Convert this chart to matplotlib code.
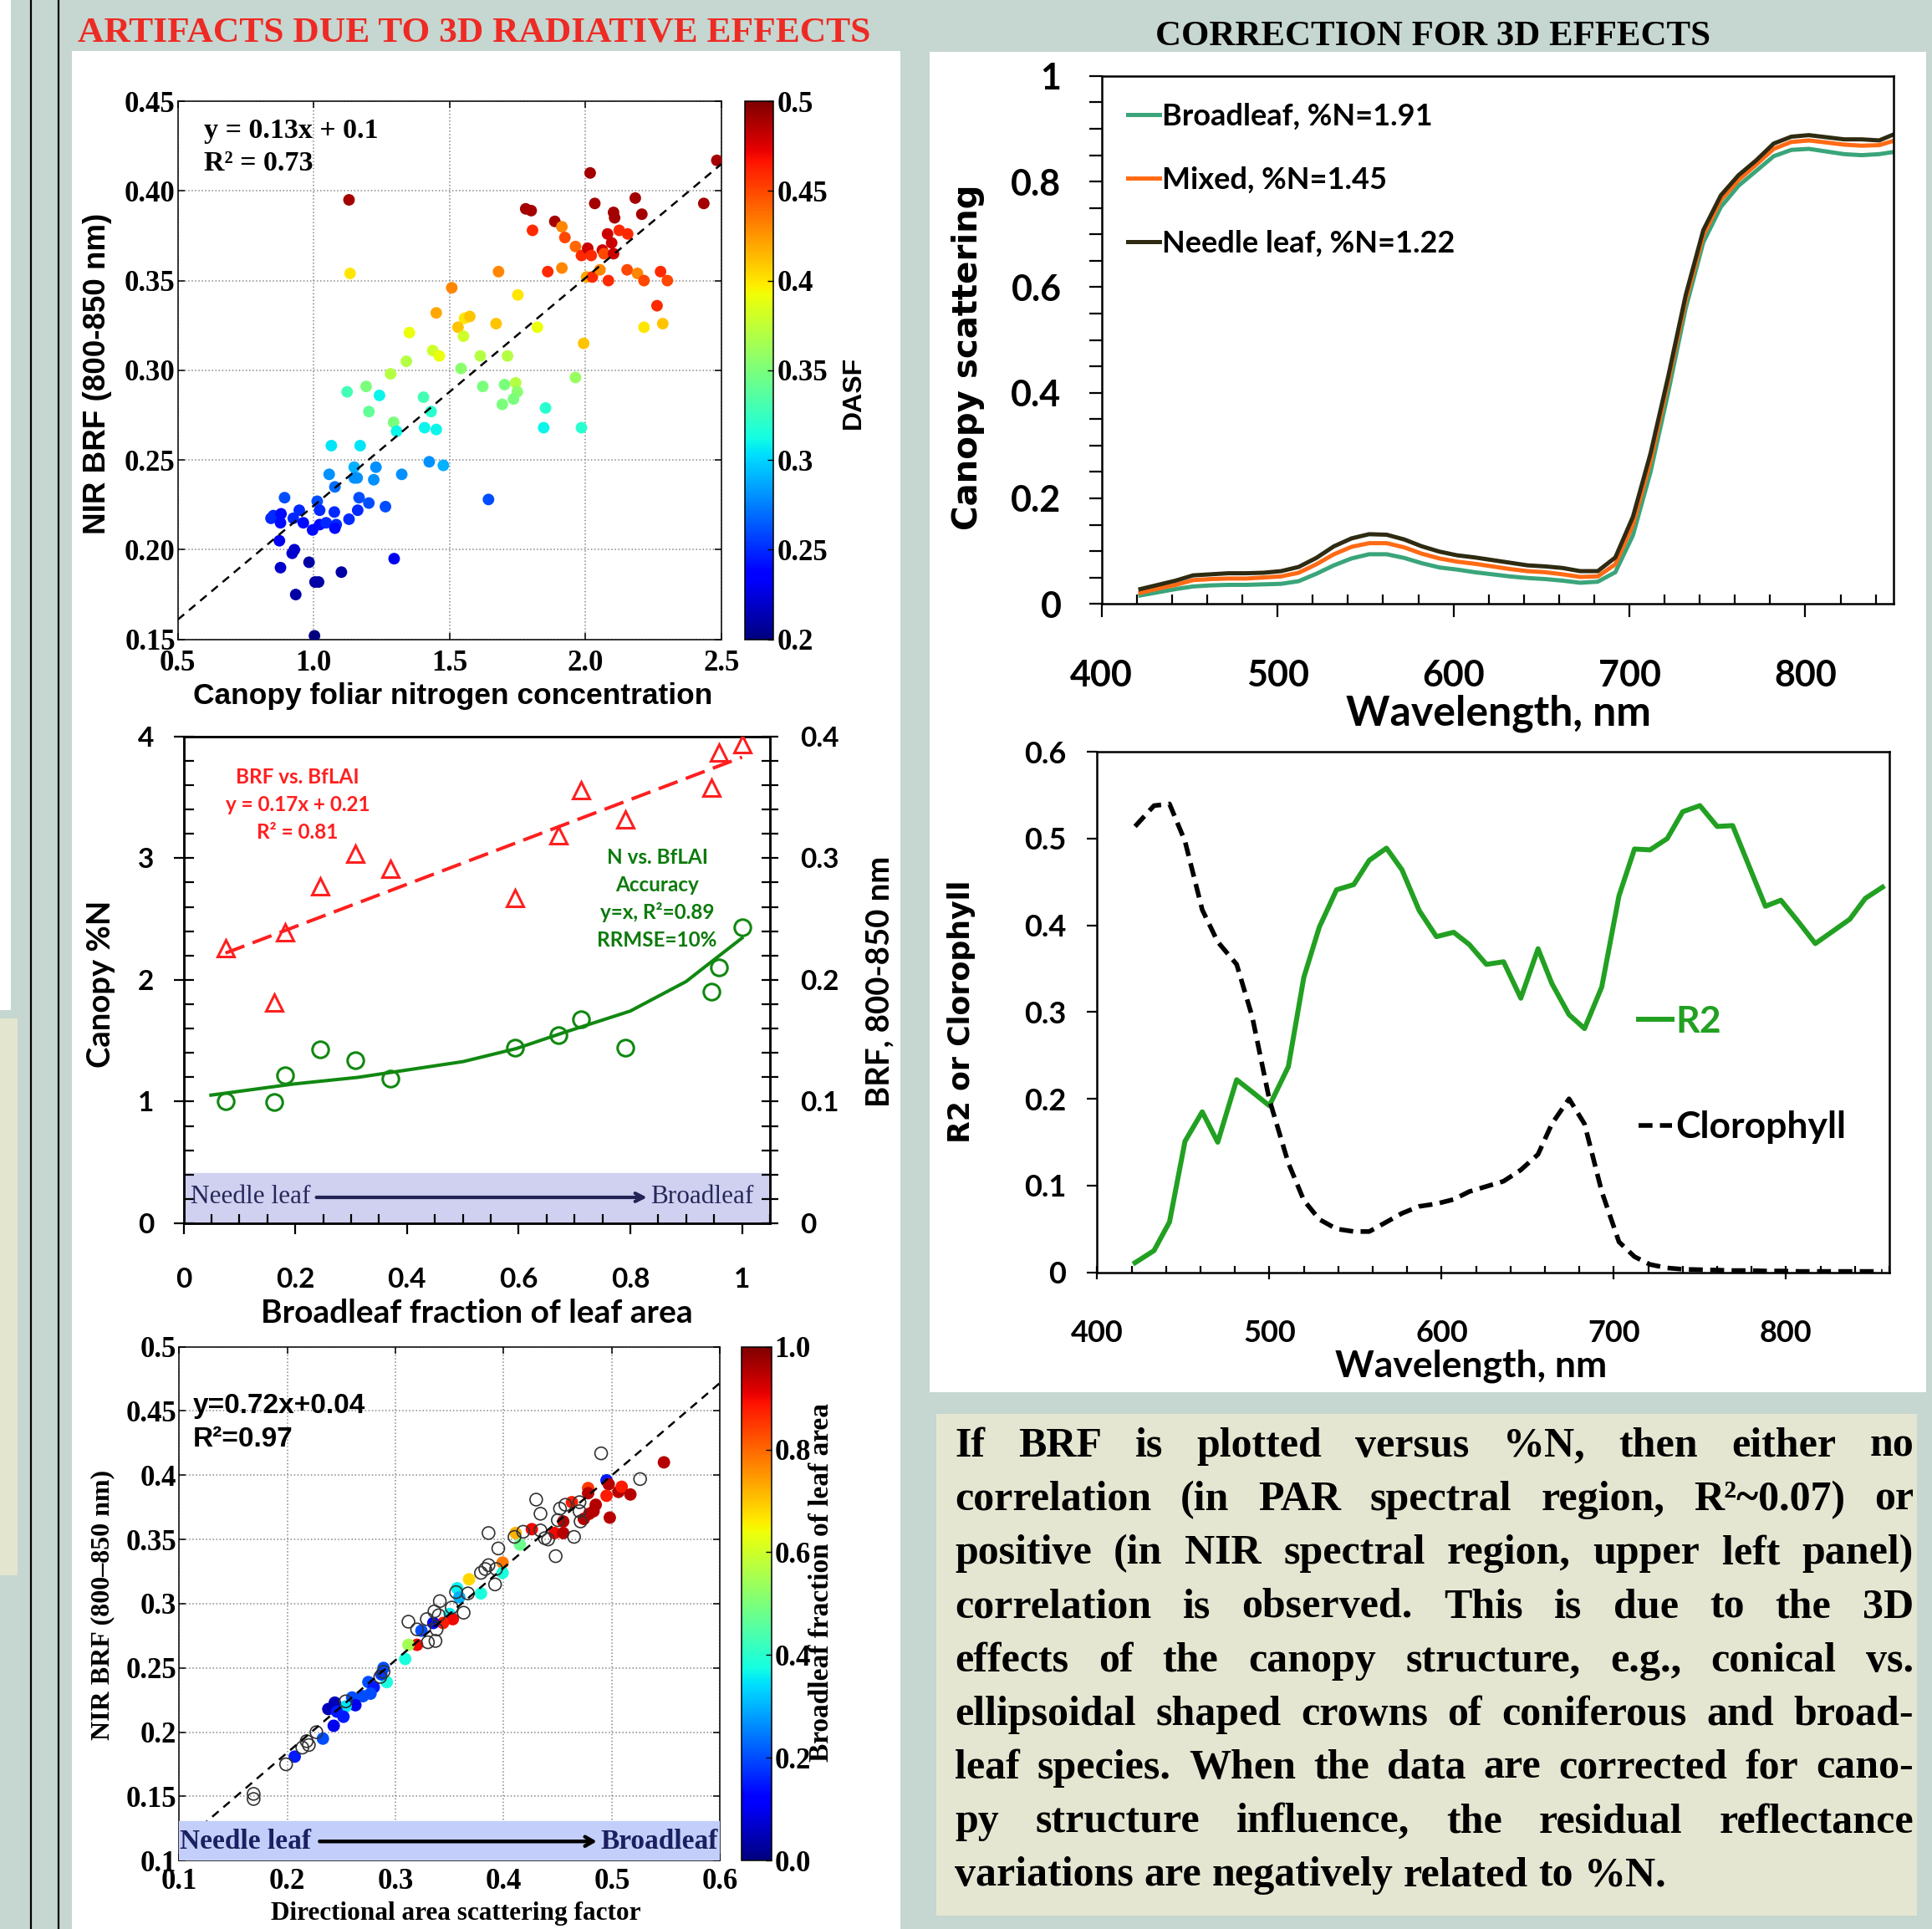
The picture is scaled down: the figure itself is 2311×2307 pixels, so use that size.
#!/usr/bin/env python3
"""Poster panel: artifacts due to 3D radiative effects and their correction."""

import matplotlib
matplotlib.use("Agg")
import matplotlib.pyplot as plt
from matplotlib.patches import Rectangle
from matplotlib.ticker import MultipleLocator

W, H, DPI = 2311, 2307, 100

# ---------------------------------------------------------------- data
# panel A: NIR BRF vs canopy foliar nitrogen, coloured by DASF
foliar_n = [1.13, 1.134, 1.78, 1.80, 1.805, 1.887, 1.913, 1.924, 2.017, 2.034,
            2.103, 2.107, 2.183, 2.207, 2.435, 2.483, 2.081, 2.096, 2.124, 2.155,
            1.963, 1.985, 2.008, 2.021, 2.062, 2.068, 2.103, 1.913, 1.861, 2.004,
            2.025, 2.053, 2.084, 2.153, 2.191, 2.215, 2.276, 2.301, 2.263, 2.215,
            2.284, 1.993, 1.680, 1.508, 1.751, 1.451, 1.555, 1.574, 1.531, 1.671,
            1.823, 1.352, 1.551, 1.438, 1.462, 1.341, 1.613, 1.713, 1.542, 1.283,
            1.963, 1.193, 1.622, 1.702, 1.743, 1.123, 1.749, 1.242, 1.404, 1.735,
            1.694, 1.853, 1.203, 1.432, 1.294, 1.305, 1.408, 1.451, 1.846, 1.985,
            1.065, 1.171, 1.149, 1.229, 1.425, 1.477, 1.057, 1.149, 1.160, 1.221,
            1.324, 1.078, 1.643, 0.893, 1.013, 1.167, 1.203, 1.264, 1.022, 0.947,
            1.076, 1.162, 0.843, 0.852, 0.880, 0.878, 0.925, 0.962, 1.022, 1.046,
            1.083, 1.078, 1.130, 0.996, 0.874, 0.929, 0.921, 0.878, 0.983, 1.102,
            1.296, 1.005, 1.018, 0.934, 1.003]
nir_brf_a = [0.395, 0.354, 0.390, 0.389, 0.378, 0.383, 0.380, 0.374, 0.410, 0.393,
             0.388, 0.385, 0.396, 0.387, 0.393, 0.417, 0.376, 0.371, 0.378, 0.376,
             0.369, 0.364, 0.368, 0.364, 0.367, 0.365, 0.365, 0.357, 0.355, 0.352,
             0.352, 0.356, 0.350, 0.356, 0.354, 0.350, 0.355, 0.350, 0.336, 0.324,
             0.326, 0.315, 0.355, 0.346, 0.342, 0.332, 0.329, 0.330, 0.324, 0.326,
             0.324, 0.321, 0.319, 0.311, 0.308, 0.305, 0.308, 0.308, 0.301, 0.298,
             0.296, 0.291, 0.291, 0.292, 0.293, 0.288, 0.288, 0.286, 0.285, 0.284,
             0.281, 0.279, 0.277, 0.277, 0.271, 0.266, 0.268, 0.267, 0.268, 0.268,
             0.258, 0.258, 0.246, 0.246, 0.249, 0.247, 0.242, 0.240, 0.240, 0.239,
             0.242, 0.235, 0.228, 0.229, 0.227, 0.229, 0.226, 0.224, 0.222, 0.222,
             0.221, 0.222, 0.2175, 0.219, 0.220, 0.215, 0.2175, 0.215, 0.214, 0.215,
             0.214, 0.212, 0.217, 0.211, 0.205, 0.200, 0.198, 0.190, 0.193, 0.1875,
             0.195, 0.182, 0.182, 0.175, 0.152]
dasf_a = [0.49, 0.40, 0.49, 0.49, 0.46, 0.49, 0.43, 0.45, 0.49, 0.49,
          0.49, 0.49, 0.49, 0.49, 0.49, 0.49, 0.48, 0.48, 0.46, 0.46,
          0.44, 0.46, 0.48, 0.46, 0.48, 0.45, 0.48, 0.43, 0.46, 0.42,
          0.46, 0.43, 0.46, 0.45, 0.43, 0.45, 0.46, 0.45, 0.46, 0.40,
          0.41, 0.41, 0.43, 0.43, 0.40, 0.42, 0.40, 0.41, 0.41, 0.41,
          0.39, 0.39, 0.38, 0.38, 0.39, 0.37, 0.37, 0.37, 0.355, 0.37,
          0.36, 0.35, 0.35, 0.35, 0.37, 0.33, 0.355, 0.31, 0.33, 0.35,
          0.35, 0.32, 0.34, 0.32, 0.35, 0.31, 0.31, 0.31, 0.31, 0.32,
          0.305, 0.305, 0.29, 0.28, 0.28, 0.29, 0.28, 0.28, 0.28, 0.28,
          0.28, 0.27, 0.26, 0.26, 0.26, 0.26, 0.26, 0.26, 0.25, 0.25,
          0.25, 0.25, 0.25, 0.25, 0.24, 0.24, 0.25, 0.24, 0.24, 0.25,
          0.25, 0.24, 0.25, 0.24, 0.23, 0.22, 0.22, 0.22, 0.21, 0.21,
          0.23, 0.21, 0.21, 0.21, 0.20]
fit_a_x = [0.5, 2.5]
fit_a_y = [0.161, 0.415]
dasf_ticks = [0.2, 0.25, 0.3, 0.35, 0.4, 0.45, 0.5]
dasf_labels = ["0.2", "0.25", "0.3", "0.35", "0.4", "0.45", "0.5"]

# panel B: canopy %N and BRF vs broadleaf fraction
bf_frac = [0.076, 0.163, 0.182, 0.244, 0.308, 0.371, 0.593, 0.672, 0.712, 0.791,
           0.945, 0.958, 1.001]
brf_b = [0.226, 0.1815, 0.239, 0.277, 0.304, 0.291, 0.267, 0.319, 0.356, 0.332,
         0.358, 0.387, 0.394]
pct_n_b = [1.005, 0.998, 1.219, 1.429, 1.339, 1.186, 1.446, 1.549, 1.679, 1.446,
           1.906, 2.100, 2.431]
n_fit_x = [0.049, 0.196, 0.312, 0.501, 0.596, 0.68, 0.80, 0.90, 0.948, 1.0]
n_fit_y = [1.053, 1.144, 1.199, 1.329, 1.436, 1.566, 1.744, 1.987, 2.159, 2.344]
brf_fit_x = [0.075, 1.0]
brf_fit_y = [0.222, 0.383]

# panel C: NIR BRF vs DASF, coloured by broadleaf fraction
dasf_c = [0.548, 0.495, 0.478, 0.478, 0.497, 0.506, 0.509, 0.517, 0.495, 0.485,
          0.483, 0.479, 0.474, 0.498, 0.463, 0.455, 0.447, 0.455, 0.426, 0.411,
          0.415, 0.399, 0.399, 0.368, 0.357, 0.359, 0.379, 0.350, 0.353, 0.344,
          0.335, 0.324, 0.320, 0.312, 0.309, 0.289, 0.292, 0.287, 0.275, 0.280,
          0.277, 0.270, 0.260, 0.263, 0.254, 0.244, 0.238, 0.246, 0.252, 0.243,
          0.233, 0.207]
brf_c = [0.410, 0.396, 0.390, 0.386, 0.393, 0.387, 0.391, 0.385, 0.384, 0.377,
         0.372, 0.370, 0.366, 0.367, 0.379, 0.364, 0.355, 0.355, 0.358, 0.355,
         0.346, 0.332, 0.324, 0.319, 0.312, 0.305, 0.308, 0.292, 0.288, 0.285,
         0.285, 0.279, 0.268, 0.268, 0.257, 0.250, 0.239, 0.245, 0.239, 0.235,
         0.230, 0.228, 0.227, 0.221, 0.220, 0.223, 0.218, 0.216, 0.212, 0.205,
         0.195, 0.181]
bf_c = [0.95, 0.15, 0.85, 0.95, 0.95, 0.95, 0.88, 0.95, 0.88, 0.95,
        0.95, 0.95, 0.95, 0.95, 0.88, 0.95, 0.9, 0.95, 0.9, 0.72,
        0.48, 0.78, 0.38, 0.68, 0.36, 0.3, 0.38, 0.36, 0.9, 0.88,
        0.1, 0.2, 0.9, 0.55, 0.38, 0.2, 0.38, 0.18, 0.2, 0.15,
        0.2, 0.2, 0.2, 0.1, 0.35, 0.05, 0.05, 0.15, 0.15, 0.1,
        0.2, 0.15]
dasf_open = [0.490, 0.526, 0.430, 0.434, 0.452, 0.457, 0.470, 0.470, 0.471, 0.450,
             0.434, 0.441, 0.438, 0.465, 0.448, 0.386, 0.418, 0.410, 0.395, 0.386,
             0.383, 0.379, 0.393, 0.392, 0.367, 0.356, 0.341, 0.352, 0.363, 0.336,
             0.340, 0.329, 0.312, 0.320, 0.330, 0.337, 0.338, 0.289, 0.286, 0.254,
             0.227, 0.218, 0.220, 0.214, 0.199, 0.169, 0.169]
brf_open = [0.417, 0.397, 0.381, 0.370, 0.374, 0.377, 0.379, 0.372, 0.364, 0.365,
            0.357, 0.350, 0.351, 0.352, 0.337, 0.355, 0.356, 0.352, 0.343, 0.330,
            0.327, 0.324, 0.327, 0.315, 0.308, 0.309, 0.302, 0.297, 0.293, 0.294,
            0.291, 0.288, 0.286, 0.280, 0.270, 0.271, 0.280, 0.247, 0.243, 0.224,
            0.200, 0.193, 0.190, 0.188, 0.175, 0.152, 0.148]
fit_c_x = [0.1, 0.6]
fit_c_y = [0.112, 0.472]

# panel D: canopy scattering spectra
wl_d = [422, 432, 442, 452, 462, 472, 482, 492, 502, 512,
        522, 532, 542, 552, 562, 572, 582, 592, 602, 612,
        622, 632, 642, 652, 662, 672, 682, 692, 702, 712,
        722, 732, 742, 752, 762, 772, 782, 792, 802, 812,
        822, 832, 842, 850]
scat_broad = [.016, .022, .028, .033, .035, .036, .036, .037, .038, .043,
              .057, .073, .086, .094, .094, .087, .077, .069, .065, .060,
              .056, .052, .049, .047, .044, .040, .042, .060, .130, .250,
              .400, .560, .685, .752, .792, .820, .848, .860, .862, .857,
              .852, .850, .852, .856]
scat_mixed = [.021, .029, .036, .045, .047, .048, .048, .050, .052, .059,
              .075, .094, .108, .115, .115, .107, .095, .086, .080, .076,
              .071, .066, .062, .060, .056, .051, .052, .075, .150, .270,
              .420, .575, .698, .765, .803, .832, .862, .875, .878, .874,
              .870, .868, .869, .877]
scat_needle = [.028, .036, .044, .054, .056, .058, .058, .059, .062, .070,
               .087, .109, .124, .132, .131, .122, .109, .099, .092, .088,
               .083, .078, .073, .071, .068, .062, .062, .088, .165, .285,
               .430, .585, .708, .774, .812, .840, .872, .885, .888, .884,
               .880, .880, .878, .889]
series_d = ["Broadleaf, %N=1.91", "Mixed, %N=1.45", "Needle leaf, %N=1.22"]

# panel E: R2 and chlorophyll absorption spectra
wl_e = [422, 433, 442, 451, 461, 470, 481, 490, 500, 511,
        520, 529, 539, 549, 558, 568, 577, 587, 597, 607,
        616, 626, 636, 646, 656, 664, 674, 683, 693, 703,
        712, 721, 731, 740, 750, 760, 769, 779, 788, 797,
        808, 817, 827, 837, 846, 856]
r2_e = [0.011, 0.025, 0.058, 0.151, 0.185, 0.150, 0.222, 0.208, 0.192, 0.237,
        0.340, 0.398, 0.441, 0.447, 0.475, 0.489, 0.464, 0.417, 0.387, 0.392,
        0.378, 0.355, 0.358, 0.316, 0.373, 0.333, 0.297, 0.281, 0.329, 0.434,
        0.488, 0.487, 0.500, 0.531, 0.538, 0.514, 0.515, 0.466, 0.422, 0.429,
        0.402, 0.379, 0.393, 0.407, 0.431, 0.444]
chl_e = [0.514, 0.538, 0.540, 0.497, 0.418, 0.381, 0.355, 0.295, 0.199, 0.126,
         0.083, 0.061, 0.050, 0.047, 0.047, 0.058, 0.068, 0.076, 0.079, 0.084,
         0.093, 0.099, 0.105, 0.118, 0.136, 0.171, 0.200, 0.171, 0.093, 0.035,
         0.018, 0.009, 0.005, 0.0035, 0.003, 0.0025, 0.002, 0.002, 0.0015, 0.0015,
         0.001, 0.001, 0.001, 0.001, 0.001, 0.001]

body_lines = [
    "If BRF is plotted versus %N, then either no",
    "correlation (in PAR spectral region, R\u00b2~0.07) or",
    "positive (in NIR spectral region, upper left panel)",
    "correlation is observed. This is due to the 3D",
    "effects of the canopy structure, e.g., conical vs.",
    "ellipsoidal shaped crowns of coniferous and broad-",
    "leaf species. When the data are corrected for cano-",
    "py structure influence, the residual reflectance",
    "variations are negatively related to %N.",
]

# ---------------------------------------------------------------- styles
BG = "#c6d6d0"
BEIGE = "#e5e6d1"
SERIF = dict(family="Liberation Serif", weight="bold")
ARIAL = dict(family="Liberation Sans", weight="bold")
CALI = dict(family="Lato", weight="bold")
VERD = dict(family="DejaVu Sans", weight="bold")

fig = plt.figure(figsize=(W / DPI, H / DPI), dpi=DPI, facecolor=BG)


def px_axes(x0, y0, x1, y1, **kw):
    return fig.add_axes([x0 / W, 1 - y1 / H, (x1 - x0) / W, (y1 - y0) / H], **kw)


# background panels, in pixel coordinates
bg = px_axes(0, 0, W, H, zorder=-10)
bg.set_xlim(0, W)
bg.set_ylim(H, 0)
bg.axis("off")
for x, y, w, h, col in [(0, 0, 13, 1208, "white"), (0, 1218, 21, 666, "#e3e5cf"),
                        (86, 61, 991, 2246, "white"), (1112, 62, 1192, 1603, "white"),
                        (1120, 1691, 1173, 600, BEIGE)]:
    bg.add_patch(Rectangle((x, y), w, h, facecolor=col, edgecolor="none"))
bg.axvline(37, color="k", lw=1.6)
bg.axvline(70, color="k", lw=1.6)

# ---------------------------------------------------------------- panel A
ax1 = px_axes(212.6, 121, 863, 764.7)
sc1 = ax1.scatter(foliar_n, nir_brf_a, c=dasf_a, cmap="jet", vmin=0.2, vmax=0.5,
                  s=100, edgecolors="none", zorder=3)
ax1.plot(fit_a_x, fit_a_y, color="k", ls=(0, (4, 3)), lw=1.8, zorder=4)
ax1.set_xlim(0.5, 2.5)
ax1.set_ylim(0.15, 0.45)
ax1.set_xticks([0.5, 1.0, 1.5, 2.0, 2.5], ["0.5", "1.0", "1.5", "2.0", "2.5"],
               fontsize=25, **SERIF)
ax1.set_yticks([0.15, 0.2, 0.25, 0.3, 0.35, 0.4, 0.45],
               ["0.15", "0.20", "0.25", "0.30", "0.35", "0.40", "0.45"],
               fontsize=25, **SERIF)
ax1.grid(True, ls=":", color="#888888", lw=1.1)
ax1.set_axisbelow(True)
ax1.tick_params(direction="in", length=6, width=1.1, top=True, right=True)
ax1.tick_params(axis="x", pad=8.6)
ax1.tick_params(axis="y", pad=2)
for sp in ax1.spines.values():
    sp.set_linewidth(1.1)
ax1.text(0.597, 0.4335, "y = 0.13x + 0.1", fontsize=24.5, va="center", **SERIF)
ax1.text(0.597, 0.4155, "R\u00b2 = 0.73", fontsize=24.5, va="center", **SERIF)
ax1.set_xlabel("Canopy foliar nitrogen concentration", fontsize=25.5, va="center", **ARIAL)
ax1.xaxis.set_label_coords(0.506, -0.1046)
ax1.set_ylabel("NIR BRF (800-850 nm)", fontsize=26.5, va="center", **ARIAL)
ax1.yaxis.set_label_coords(-0.1485, 0.494)

cax1 = px_axes(891, 121, 925, 764.7)
cb1 = fig.colorbar(sc1, cax=cax1)
cb1.set_ticks(dasf_ticks, labels=dasf_labels, fontsize=25, **SERIF)
cb1.ax.tick_params(direction="in", length=5, width=1, pad=3)
cb1.outline.set_linewidth(1.1)
cb1.set_label("DASF", fontsize=23, va="center", **ARIAL)
cb1.ax.yaxis.set_label_coords(3.82, 0.459)

# ---------------------------------------------------------------- panel B
ax2 = px_axes(219.6, 880.8, 921, 1463)
ax2r = ax2.twinx()
ax2.axhspan(0, 0.414, color="#d0d1f0", zorder=0)
ax2.plot(n_fit_x, n_fit_y, color="#118811", lw=2.9, zorder=3)
ax2.plot(bf_frac, pct_n_b, ls="none", marker="o", ms=14, mfc="none",
         mec="#118811", mew=2.2, zorder=4)
ax2r.plot(brf_fit_x, brf_fit_y, color="#ff1f1f", lw=2.9, ls=(0, (6, 2.6)), zorder=3)
ax2r.plot(bf_frac, brf_b, ls="none", marker="^", ms=14, mfc="none",
          mec="#ff1f1f", mew=2.2, zorder=4)

ax2.set_xlim(0, 1.05)
ax2.set_ylim(0, 4)
ax2r.set_ylim(0, 0.4)
ax2.set_xticks([0, 0.2, 0.4, 0.6, 0.8, 1.0], ["0", "0.2", "0.4", "0.6", "0.8", "1"],
               fontsize=24, **CALI)
ax2.set_yticks([0, 1, 2, 3, 4], ["0", "1", "2", "3", "4"], fontsize=24, **CALI)
ax2r.set_yticks([0, 0.1, 0.2, 0.3, 0.4], ["0", "0.1", "0.2", "0.3", "0.4"],
                fontsize=24, **CALI)
ax2.xaxis.set_minor_locator(MultipleLocator(0.05))
ax2.yaxis.set_minor_locator(MultipleLocator(0.2))
ax2r.yaxis.set_minor_locator(MultipleLocator(0.02))
ax2.tick_params(axis="x", which="major", direction="out", length=9.4, width=1.6, pad=29)
ax2.tick_params(axis="x", which="minor", direction="in", length=8, width=1.6)
ax2.tick_params(axis="y", which="major", direction="inout", length=17, width=1.6, pad=17)
ax2.tick_params(axis="y", which="minor", direction="in", length=8.6, width=1.6)
ax2r.tick_params(axis="y", which="both", direction="inout", length=14.4, width=1.6, pad=19)
for a in (ax2, ax2r):
    for sp in a.spines.values():
        sp.set_linewidth(1.8)

for yy, s in zip([3.666, 3.436, 3.212], ["BRF vs. BfLAI", "y = 0.17x + 0.21", "R\u00b2 = 0.81"]):
    ax2.text(0.204, yy, s, fontsize=17.5, color="#ff1f1f", ha="center", va="center", **CALI)
for yy, s in zip([3.008, 2.781, 2.554, 2.327],
                 ["N vs. BfLAI", "Accuracy", "y=x, R\u00b2=0.89", "RRMSE=10%"]):
    ax2.text(0.848, yy, s, fontsize=17.5, color="#0d7a0d", ha="center", va="center", **CALI)

ax2.text(0.013, 0.213, "Needle leaf", fontsize=22.5, family="Liberation Serif",
         color="#26275a", ha="left", va="center", zorder=5)
ax2.text(1.021, 0.213, "Broadleaf", fontsize=22.5, family="Liberation Serif",
         color="#26275a", ha="right", va="center", zorder=5)
ax2.annotate("", xy=(0.83, 0.213), xytext=(0.238, 0.213), zorder=5,
             arrowprops=dict(arrowstyle="->,head_length=0.7,head_width=0.35",
                             lw=3, color="#232455", shrinkA=0, shrinkB=0))

ax2.set_xlabel("Broadleaf fraction of leaf area", fontsize=28, va="center", **CALI)
ax2.xaxis.set_label_coords(0.4996, -0.1838)
ax2.set_ylabel("Canopy %N", fontsize=27.5, va="center", **CALI)
ax2.yaxis.set_label_coords(-0.141, 0.491)
ax2r.set_ylabel("BRF, 800-850 nm", fontsize=27.5, va="center", rotation=90, **CALI)
ax2r.yaxis.set_label_coords(1.187, 0.497)

# ---------------------------------------------------------------- panel C
ax3 = px_axes(214, 1610.6, 861.5, 2225.3)
sc3 = ax3.scatter(dasf_c, brf_c, c=bf_c, cmap="jet", vmin=0, vmax=1, s=115,
                  edgecolors="none", zorder=3)
ax3.scatter(dasf_open, brf_open, s=115, facecolors="none", edgecolors="#333333",
            linewidths=1.2, zorder=3.5)
ax3.plot(fit_c_x, fit_c_y, color="k", ls=(0, (4, 3)), lw=1.8, zorder=4)
ax3.axhspan(0.1, 0.131, color="#c3cffa", zorder=4.5)
ax3.set_xlim(0.1, 0.6)
ax3.set_ylim(0.1, 0.5)
ax3.set_xticks([0.1, 0.2, 0.3, 0.4, 0.5, 0.6], ["0.1", "0.2", "0.3", "0.4", "0.5", "0.6"],
               fontsize=25, **SERIF)
ax3.set_yticks([0.1, 0.15, 0.2, 0.25, 0.3, 0.35, 0.4, 0.45, 0.5],
               ["0.1", "0.15", "0.2", "0.25", "0.3", "0.35", "0.4", "0.45", "0.5"],
               fontsize=25, **SERIF)
ax3.grid(True, ls=":", color="#888888", lw=1.1)
ax3.set_axisbelow(True)
ax3.tick_params(direction="in", length=6, width=1.1, top=True, right=True)
ax3.tick_params(axis="x", pad=6)
ax3.tick_params(axis="y", pad=2)
for sp in ax3.spines.values():
    sp.set_linewidth(1.1)
ax3.text(0.113, 0.454, "y=0.72x+0.04", fontsize=24, va="center", **ARIAL)
ax3.text(0.113, 0.428, "R\u00b2=0.97", fontsize=24, va="center", **ARIAL)
ax3.text(0.1005, 0.115, "Needle leaf", fontsize=24, color="#1b2060", ha="left",
         va="center", zorder=5, **SERIF)
ax3.text(0.598, 0.115, "Broadleaf", fontsize=24, color="#1b2060", ha="right",
         va="center", zorder=5, **SERIF)
ax3.annotate("", xy=(0.486, 0.115), xytext=(0.23, 0.115), zorder=5,
             arrowprops=dict(arrowstyle="->,head_length=0.7,head_width=0.4",
                             lw=3.2, color="black", shrinkA=0, shrinkB=0))
ax3.set_xlabel("Directional area scattering factor", fontsize=22.5, va="center", **SERIF)
ax3.xaxis.set_label_coords(0.512, -0.1036)
ax3.set_ylabel("NIR BRF (800\u2013850 nm)", fontsize=23, va="center", **SERIF)
ax3.yaxis.set_label_coords(-0.1405, 0.4975)

cax3 = px_axes(887, 1610.6, 922.5, 2225.3)
cb3 = fig.colorbar(sc3, cax=cax3)
cb3.set_ticks([0, 0.2, 0.4, 0.6, 0.8, 1.0],
              labels=["0.0", "0.2", "0.4", "0.6", "0.8", "1.0"], fontsize=25, **SERIF)
cb3.ax.tick_params(direction="in", length=5, width=1, pad=3)
cb3.outline.set_linewidth(1.1)
cb3.set_label("Broadleaf fraction of leaf area", fontsize=24, va="center", **SERIF)
cb3.ax.yaxis.set_label_coords(2.68, 0.5406)

# ---------------------------------------------------------------- panel D
ax4 = px_axes(1317.8, 90.9, 2264.7, 722.2)
for vals, col, lab in zip([scat_broad, scat_mixed, scat_needle],
                          ["#3aa57a", "#ff6a14", "#2e2b12"], series_d):
    ax4.plot(wl_d, vals, color=col, lw=3.6, label=lab)
ax4.set_xlim(400, 850)
ax4.set_ylim(0, 1)
ax4.set_xticks([400, 500, 600, 700, 800], ["400", "500", "600", "700", "800"],
               fontsize=31, **CALI)
ax4.set_yticks([0, 0.2, 0.4, 0.6, 0.8, 1.0], ["0", "0.2", "0.4", "0.6", "0.8", "1"],
               fontsize=31, **CALI)
ax4.xaxis.set_minor_locator(MultipleLocator(20))
ax4.yaxis.set_minor_locator(MultipleLocator(0.05))
ax4.tick_params(axis="x", which="major", direction="out", length=11.5, width=1.6, pad=36)
ax4.tick_params(axis="x", which="minor", direction="in", length=8, width=1.6)
ax4.tick_params(axis="y", which="both", direction="out", length=10.8, width=1.6, pad=24)
for sp in ax4.spines.values():
    sp.set_linewidth(1.8)
leg4 = ax4.legend(loc="upper left", bbox_to_anchor=(0.033, 0.95), frameon=False,
                  prop=dict(family="Lato", weight="bold", size=26), handlelength=1.05,
                  handletextpad=0.08, labelspacing=1.2, borderpad=0, borderaxespad=0)
ax4.set_xlabel("Wavelength, nm", fontsize=36, va="center", **CALI)
ax4.xaxis.set_label_coords(0.5008, -0.2072)
ax4.set_ylabel("Canopy scattering", fontsize=29, va="center", **VERD)
ax4.yaxis.set_label_coords(-0.1688, 0.4667)

# ---------------------------------------------------------------- panel E
ax5 = px_axes(1312.4, 899.2, 2260, 1521.6)
ax5.plot(wl_e, r2_e, color="#22a022", lw=4.3, label="R2")
ax5.plot(wl_e, chl_e, color="black", lw=4, ls=(0, (3, 1.6)), label="Clorophyll")
ax5.set_xlim(400, 860)
ax5.set_ylim(0, 0.6)
ax5.set_xticks([400, 500, 600, 700, 800], ["400", "500", "600", "700", "800"],
               fontsize=26, **CALI)
ax5.set_yticks([0, 0.1, 0.2, 0.3, 0.4, 0.5, 0.6],
               ["0", "0.1", "0.2", "0.3", "0.4", "0.5", "0.6"], fontsize=26, **CALI)
ax5.xaxis.set_minor_locator(MultipleLocator(20))
ax5.tick_params(axis="x", which="major", direction="inout", length=11.5, width=1.6, pad=35)
ax5.tick_params(axis="x", which="minor", direction="in", length=5.8, width=1.6)
ax5.tick_params(axis="y", which="major", direction="out", length=8.6, width=1.6, pad=18)
for sp in ax5.spines.values():
    sp.set_linewidth(1.8)
leg5 = ax5.legend(loc="upper left", bbox_to_anchor=(0.683, 0.514), frameon=False,
                  prop=dict(family="Lato", weight="bold", size=32), handlelength=0.9,
                  handletextpad=0.1, labelspacing=1.95, borderpad=0, borderaxespad=0)
leg5.get_texts()[0].set_color("#22a022")
ax5.set_xlabel("Wavelength, nm", fontsize=32, va="center", **CALI)
ax5.xaxis.set_label_coords(0.4723, -0.1806)
ax5.set_ylabel("R2 or Clorophyll", fontsize=25, va="center", **VERD)
ax5.yaxis.set_label_coords(-0.1714, 0.5006)

# ---------------------------------------------------------------- titles and body text
renderer = fig.canvas.get_renderer()


def text_width(s, size, **kw):
    t = bg.text(0, 0, s, fontsize=size, **kw)
    w = t.get_window_extent(renderer).width
    t.remove()
    return w


def fitted_line(s, x0, x1, y, color, base):
    size = base * (x1 - x0) / text_width(s, base, **SERIF)
    bg.text((x0 + x1) / 2, y, s, fontsize=size, color=color, ha="center",
            va="baseline", **SERIF)


fitted_line("ARTIFACTS DUE TO 3D RADIATIVE EFFECTS", 93, 1042, 49, "#ee2a24", 38)
fitted_line("CORRECTION FOR 3D EFFECTS", 1382, 2046, 54.5, "black", 38)

# justified paragraph in the beige box
x_left, x_right = 1142, 2289
avail = x_right - x_left
size = 36
space = text_width("a a", size, **SERIF) - text_width("aa", size, **SERIF)
natural = max(sum(text_width(w, size, **SERIF) for w in ln.split())
              + space * (len(ln.split()) - 1) for ln in body_lines[:-1])
size = size * min(1.0, avail / natural)
space = text_width("a a", size, **SERIF) - text_width("aa", size, **SERIF)
for i, ln in enumerate(body_lines):
    words = ln.split()
    widths = [text_width(w, size, **SERIF) for w in words]
    gap = space if i == len(body_lines) - 1 else (avail - sum(widths)) / (len(words) - 1)
    x = x_left
    for w, wd in zip(words, widths):
        bg.text(x, 1741.7 + 64.2 * i, w, fontsize=size, ha="left", va="baseline",
                color="black", **SERIF)
        x += wd + gap

fig.savefig("out.png", dpi=DPI, facecolor=BG)
